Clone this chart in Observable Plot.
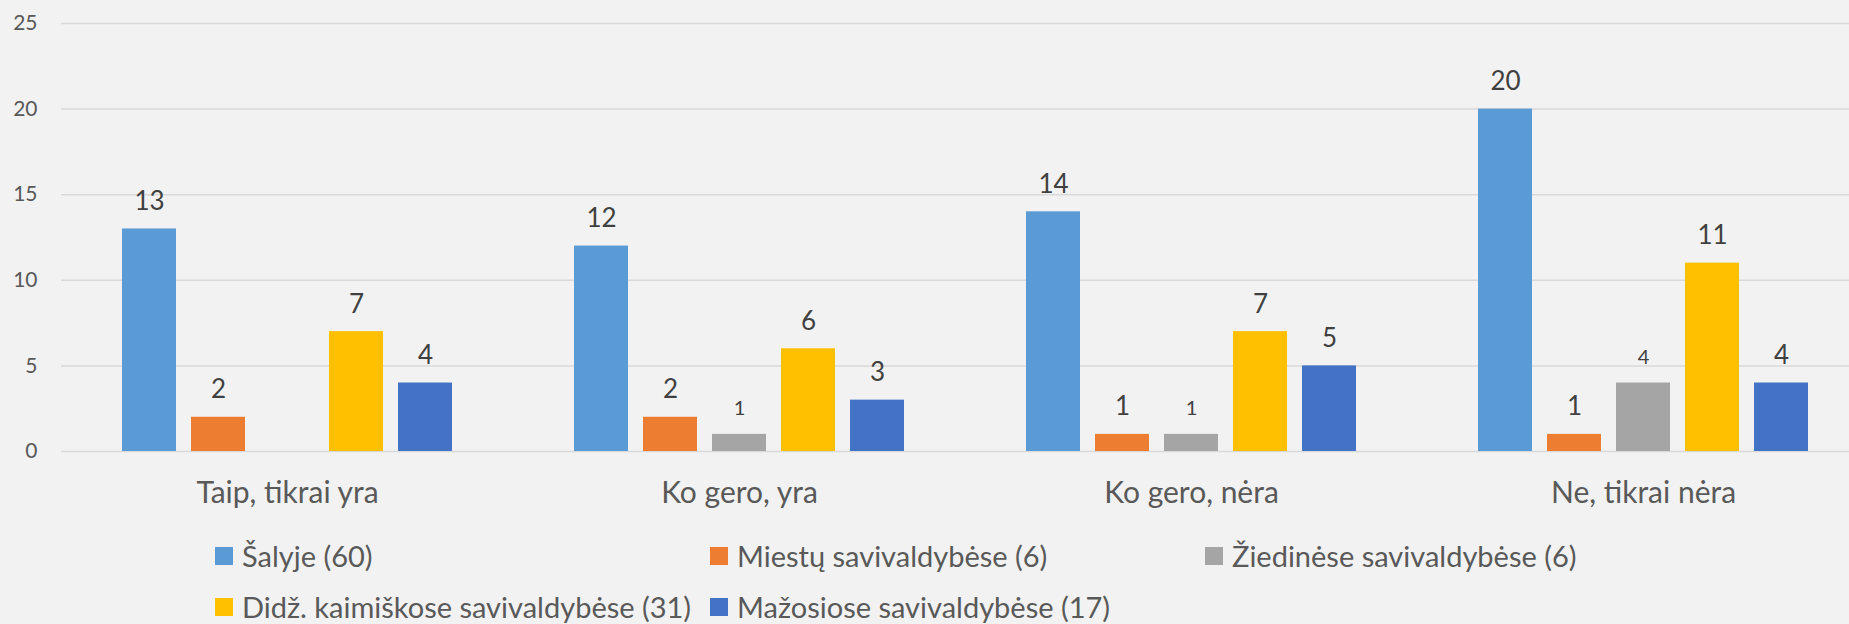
<!DOCTYPE html>
<html>
<head>
<meta charset="utf-8">
<script src="https://cdn.jsdelivr.net/npm/d3@7"></script>
<script src="https://cdn.jsdelivr.net/npm/@observablehq/plot@0.6"></script>
<style>
html, body { margin: 0; padding: 0; background: #F2F2F2; overflow: hidden; width: 1849px; height: 624px; }
#chart { position: absolute; left: 0; top: 0; }
#legend { position: absolute; left: 215px; top: 542px; display: grid; grid-template-columns: 495px 495px 495px; grid-auto-rows: 28px; row-gap: 23px; font-family: Lato, sans-serif; font-size: 29px; line-height: 28px; color: #595959; }
.item { display: flex; align-items: center; white-space: nowrap; }
.sw { width: 18px; height: 18px; margin-right: 9px; flex: none; }
</style>
</head>
<body>
<div id="chart"></div>
<div id="legend"></div>
<script>
const categories = ["Taip, tikrai yra", "Ko gero, yra", "Ko gero, nėra", "Ne, tikrai nėra"];
const seriesNames = ["Šalyje (60)", "Miestų savivaldybėse (6)", "Žiedinėse savivaldybėse (6)", "Didž. kaimiškose savivaldybėse (31)", "Mažosiose savivaldybėse (17)"];
const seriesColors = ["#5B9BD5", "#ED7D31", "#A5A5A5", "#FFC000", "#4472C4"];
const salyje = [13, 12, 14, 20];
const miestu = [2, 2, 1, 1];
const ziedinese = [null, 1, 1, 4];
const didz = [7, 6, 7, 11];
const mazosiose = [4, 3, 5, 4];
const yTicks = [0, 5, 10, 15, 20, 25];

const seriesValues = [salyje, miestu, ziedinese, didz, mazosiose];
const rows = [];
seriesNames.forEach((s, i) => {
  categories.forEach((c, j) => {
    const v = seriesValues[i][j];
    if (v != null) rows.push({series: s, category: c, value: v});
  });
});
const graySeries = seriesNames[2];

const chart = Plot.plot({
  width: 1849,
  height: 530,
  marginTop: 23,
  marginBottom: 79,
  marginLeft: 60,
  marginRight: 0,
  style: {background: "#F2F2F2", overflow: "hidden", fontFamily: "Lato, sans-serif", maxWidth: "none"},
  fx: {domain: categories, range: [60, 1870], padding: 0, axis: null, label: null},
  x: {domain: seriesNames, range: [120, 452], paddingInner: 0.216, paddingOuter: 0, axis: null},
  y: {domain: [0, 25], range: [451, 23], axis: null},
  color: {domain: seriesNames, range: seriesColors},
  marks: [
    Plot.gridY(yTicks, {stroke: "#D9D9D9", strokeOpacity: 1, strokeWidth: 1.5}),
    Plot.axisY(yTicks, {tickSize: 0, tickPadding: 24, fontSize: 21, color: "#595959", label: null}),
    Plot.barY(rows, {fx: "category", x: "series", y: "value", fill: "series"}),
    Plot.text(rows.filter(d => d.series !== graySeries), {fx: "category", x: "series", y: "value", text: d => String(d.value), lineAnchor: "bottom", dy: -19, fontSize: 26, fill: "#404040"}),
    Plot.text(rows.filter(d => d.series === graySeries), {fx: "category", x: "series", y: "value", text: d => String(d.value), lineAnchor: "bottom", dy: -19, fontSize: 20, fill: "#404040"}),
    Plot.text(categories, {fx: d => d, frameAnchor: "bottom", dy: 42, text: d => d, fontSize: 30, fill: "#595959", lineAnchor: "middle"})
  ]
});
document.getElementById("chart").appendChild(chart);

const legend = document.getElementById("legend");
seriesNames.forEach((s, i) => {
  const item = document.createElement("div");
  item.className = "item";
  const sw = document.createElement("span");
  sw.className = "sw";
  sw.style.background = seriesColors[i];
  const label = document.createElement("span");
  label.textContent = s;
  item.appendChild(sw);
  item.appendChild(label);
  legend.appendChild(item);
});
</script>
</body>
</html>
